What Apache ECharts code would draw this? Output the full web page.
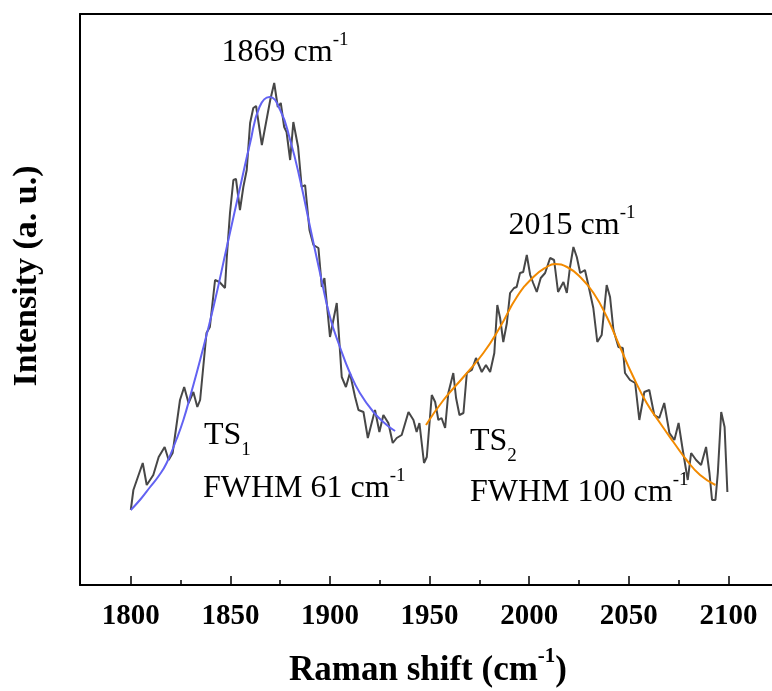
<!DOCTYPE html>
<html>
<head>
<meta charset="utf-8">
<script src="https://cdn.jsdelivr.net/npm/echarts@6/dist/echarts.min.js"></script>
<style>
html,body{margin:0;padding:0;background:#fff;}
#chart{width:772px;height:691px;}
</style>
</head>
<body>
<div id="chart"></div>
<script>
// Raw Raman spectrum
const ramanShift = [1800,1801.3,1806,1808,1811.3,1814,1817,1819,1821,1824.7,1826.8,1829,1831.4,1833.4,1834.8,1838,1839.7,1842.3,1844.5,1847.3,1848.2,1849.8,1851.5,1852.8,1854.8,1856.5,1858.2,1859.9,1861.5,1862.9,1865.8,1870,1872,1873.8,1875.3,1877,1878.2,1880,1881.6,1884,1885.8,1887.5,1889.7,1891.7,1894.2,1895.9,1897.2,1900,1903.4,1905.9,1908,1910,1912.6,1914.3,1916.8,1919,1922.6,1924.8,1926.8,1929.3,1931.5,1933.5,1936,1939.4,1941.9,1943.5,1944.9,1947.2,1948.6,1951.1,1952.8,1954.4,1956,1957.8,1959.4,1961.9,1963.3,1965,1967,1968.7,1971.2,1973.3,1976.2,1978.3,1980.4,1982.5,1984,1985.4,1987,1988.8,1990.4,1992.4,1993.7,1995.4,1997,1998.8,2000.5,2002,2003.8,2005.8,2008,2010.5,2012.5,2014.5,2017.2,2018.9,2020.5,2022.2,2023.9,2025.6,2028,2029.7,2032.2,2034.2,2036.4,2038.9,2040.6,2042.3,2044.8,2047,2048.1,2050.6,2053.2,2055.3,2057.8,2060.3,2062.8,2065.3,2067.8,2070.4,2072.9,2075,2077.1,2079.6,2081.3,2083.8,2086.3,2088.8,2090.5,2091.8,2093.5,2094.7,2096.4,2098.1,2099.5];
const intensity = [75,95,122,100,110,128,138,125,132,185,198,182,193,178,185,252,258,305,303,297,328,372,405,406,375,398,415,462,477,479,440,485,502,478,482,458,453,425,463,438,398,400,355,340,337,298,307,248,282,208,198,212,188,175,173,147,175,153,170,162,142,147,150,173,165,153,162,122,128,190,183,165,167,157,192,212,187,170,172,212,215,227,213,220,213,232,280,267,243,262,292,297,298,312,313,330,310,302,293,307,312,327,325,293,303,292,318,338,328,312,315,300,277,243,250,300,288,255,238,237,212,205,202,165,193,195,170,167,182,152,145,162,135,105,132,125,120,138,112,85,85,112,173,158,93];

// Fitted peak TS1 (blue)
const fit1Shift = [1800,1805,1809.7,1814,1818,1823,1826.4,1830,1834.8,1841.5,1848.2,1854.9,1859.9,1864.6,1869.6,1875,1880,1885,1890,1895,1900,1905,1910,1915,1921.8,1928.5,1932.7];
const fit1Intensity = [75,86,98,109,122,146,165,190,225,278,338,398,442,478,488,475,445,405,358,312,268,238,212,192,173,160,154];

// Fitted peak TS2 (orange)
const fit2Shift = [1948.2,1957,1967,1977,1985.4,1993.8,2002.1,2008.8,2013,2019,2025.6,2032.3,2039,2045.6,2052.3,2059,2065.7,2072.4,2079,2085.8,2093.5];
const fit2Intensity = [160,185,208,232,258,288,308,318,321,318,308,292,268,238,208,182,162,143,125,110,100];

// Axis ticks
const xTickLabels = [1800,1850,1900,1950,2000,2050,2100];
const xMinorTicks = [1825,1875,1925,1975,2025,2075];

const zip = (a,b) => a.map((v,i)=>[v,b[i]]);
const serif = "'Liberation Serif','Times New Roman',serif";

const chart = echarts.init(document.getElementById('chart'));
const xMin = 1774.5, xMax = 2121.9;
const commonX = {type:'value', min:xMin, max:xMax, splitLine:{show:false}};
const noTick = {show:false};
const supText = (x, y, main, sup, align) => ({
  type:'text', x:x, y:y, style:{text:'{n|' + main + '}{s|' + sup + '}', align:align, verticalAlign:'middle',
    rich:{n:{fontFamily:serif, fontSize:32, lineHeight:38, verticalAlign:'bottom', fill:'#000'},
          s:{fontFamily:serif, fontSize:19, lineHeight:38, verticalAlign:'top', fill:'#000'}}}
});
const subText = (x, y, main, sub) => ({
  type:'text', x:x, y:y, style:{text:'{n|' + main + '}{b|' + sub + '}', align:'left', verticalAlign:'middle',
    rich:{n:{fontFamily:serif, fontSize:32, lineHeight:40, verticalAlign:'top', fill:'#000'},
          b:{fontFamily:serif, fontSize:19, lineHeight:40, verticalAlign:'bottom', fill:'#000'}}}
});
chart.setOption({
  animation:false,
  grid:{left:80, right:0, top:14, bottom:106, show:false},
  xAxis:[
    Object.assign({}, commonX, {
      position:'bottom',
      axisLine:{show:true, lineStyle:{color:'#000', width:2}},
      axisTick:{show:true, inside:true, length:9, lineStyle:{color:'#000', width:1.5}, customValues:xTickLabels},
      axisLabel:{show:true, customValues:xTickLabels, formatter:(v)=>String(v), color:'#000', fontFamily:serif, fontWeight:'bold', fontSize:29, margin:17}
    }),
    Object.assign({}, commonX, {
      position:'bottom',
      axisLine:{show:false},
      axisTick:{show:true, inside:true, length:5, lineStyle:{color:'#000', width:1.5}, customValues:xMinorTicks},
      axisLabel:{show:false}
    }),
    Object.assign({}, commonX, {
      position:'top',
      axisLine:{show:true, lineStyle:{color:'#000', width:2}},
      axisTick:noTick, axisLabel:{show:false}
    })
  ],
  yAxis:{type:'value', min:0, max:571, axisLine:{show:true, lineStyle:{color:'#000', width:2}}, axisTick:{show:false}, axisLabel:{show:false}, splitLine:{show:false}},
  series:[
    {type:'line', data:zip(ramanShift,intensity), showSymbol:false, lineStyle:{color:'#474747', width:2}, z:2},
    {type:'line', data:zip(fit1Shift,fit1Intensity), showSymbol:false, smooth:true, lineStyle:{color:'#6262F2', width:2}, z:3},
    {type:'line', data:zip(fit2Shift,fit2Intensity), showSymbol:false, smooth:true, lineStyle:{color:'#F28A00', width:2}, z:3}
  ],
  graphic:[
    {type:'text', x:428, y:667, style:{text:'{n|Raman shift (cm}{s|-1}{n|)}', align:'center', verticalAlign:'middle',
      rich:{n:{fontFamily:serif, fontWeight:'bold', fontSize:35, lineHeight:42, verticalAlign:'bottom', fill:'#000'},
            s:{fontFamily:serif, fontWeight:'bold', fontSize:21, lineHeight:42, verticalAlign:'top', fill:'#000'}}}},
    {type:'text', x:27, y:276, rotation:Math.PI/2, style:{text:'Intensity (a. u.)', align:'center', verticalAlign:'middle', fontFamily:serif, fontWeight:'bold', fontSize:34, fill:'#000'}},
    supText(285, 50, '1869 cm', '-1', 'center'),
    supText(572, 223, '2015 cm', '-1', 'center'),
    subText(204, 440, 'TS', '1'),
    supText(203, 486, 'FWHM 61 cm', '-1', 'left'),
    subText(470, 446, 'TS', '2'),
    supText(470, 490, 'FWHM 100 cm', '-1', 'left')
  ]
});
</script>
</body>
</html>
